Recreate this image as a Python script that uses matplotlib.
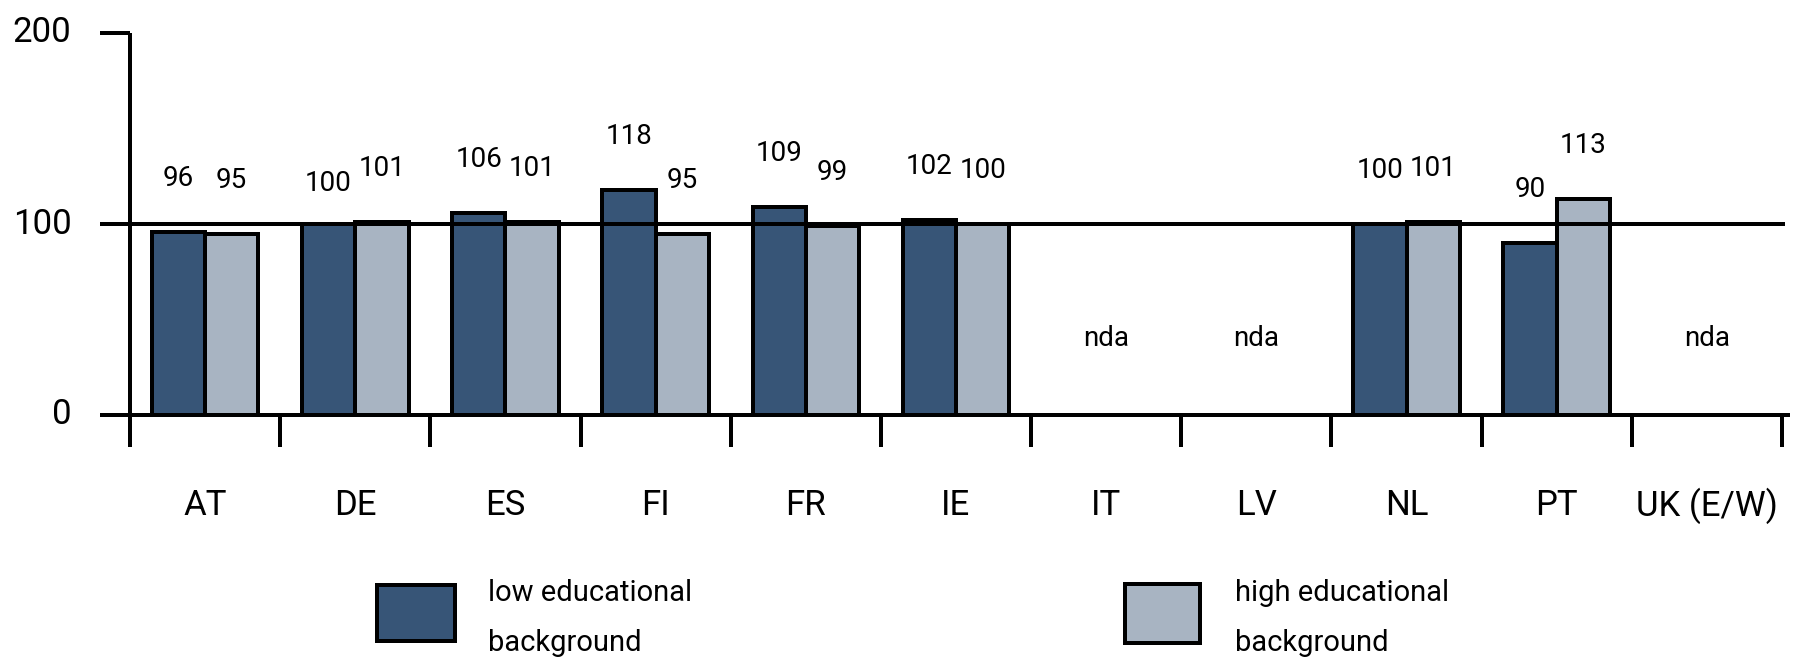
import matplotlib
matplotlib.use("Agg")
import matplotlib.pyplot as plt
from matplotlib import font_manager
from matplotlib.patches import Rectangle

# ---- data ----
categories = ["AT", "DE", "ES", "FI", "FR", "IE", "IT", "LV", "NL", "PT", "UK (E/W)"]
low_edu = [96, 100, 106, 118, 109, 102, None, None, 100, 90, None]
high_edu = [95, 101, 101, 95, 99, 100, None, None, 101, 113, None]
series_names = [["low educational", "background"], ["high educational", "background"]]
y_ticks = [0, 100, 200]
missing_label = "nda"

# ---- style ----
avail = {f.name for f in font_manager.fontManager.ttflist}
fam = next((f for f in ["Liberation Sans Narrow", "Roboto", "Liberation Sans"] if f in avail), "DejaVu Sans")
plt.rcParams["font.family"] = [fam, "DejaVu Sans"]

dark = "#375577"
light = "#a8b4c2"
lw_px = 4
lw = lw_px * 72 / 100

W, H = 1797, 659
fig = plt.figure(figsize=(W / 100, H / 100), dpi=100)
x0, x1 = 130, 1782
y0, y1 = 415, 33
ax = fig.add_axes([x0 / W, 1 - y0 / H, (x1 - x0) / W, (y0 - y1) / H])
n = len(categories)
ax.set_xlim(0, n)
ax.set_ylim(0, 200)
ax.axis("off")

bw = 0.355
val_fs = 20
for i, (lo, hi) in enumerate(zip(low_edu, high_edu)):
    c = i + 0.5
    if lo is None:
        ax.text(c, 40, missing_label, ha="center", va="center", fontsize=20)
        continue
    ax.bar(c - bw / 2, lo, width=bw, color=dark, edgecolor="black", linewidth=lw, zorder=3)
    ax.bar(c + bw / 2, hi, width=bw, color=light, edgecolor="black", linewidth=lw, zorder=3)
    dlo = 21 if categories[i] == "DE" else 28
    ax.text(c - bw / 2, lo + dlo, str(lo), ha="center", va="center", fontsize=val_fs)
    ax.text(c + bw / 2, hi + 28, str(hi), ha="center", va="center", fontsize=val_fs)

# axis lines
kw = dict(color="black", linewidth=lw, clip_on=False, solid_capstyle="butt", zorder=4)
ax.plot([0, 0], [200, -16.8], **kw)
ax.plot([-0.2, 0], [200, 200], **kw)
ax.plot([-0.2, n + 0.05], [0, 0], **kw)
ax.plot([-0.2, n + 0.02], [100, 100], **kw)
for b in range(0, n + 1):
    ax.plot([b, b], [0, -16.8], **kw)
for t in y_ticks:
    ax.text(-0.39, t, str(t), ha="right", va="center", fontsize=25)
for i, cat in enumerate(categories):
    ax.text(i + 0.5, -47.5, cat, ha="center", va="center", fontsize=25)

# legend
def legend_item(bx0, bx1, by0, by1, color, tx, lines):
    fig.add_artist(Rectangle((bx0 / W, 1 - by1 / H), (bx1 - bx0) / W, (by1 - by0) / H,
                             transform=fig.transFigure, facecolor=color,
                             edgecolor="black", linewidth=lw))
    fig.text(tx / W, 1 - 601 / H, lines[0], ha="left", va="baseline", fontsize=21)
    fig.text(tx / W, 1 - 651 / H, lines[1], ha="left", va="baseline", fontsize=21)

legend_item(377, 455, 585, 641, dark, 488, series_names[0])
legend_item(1125, 1200, 584, 643, light, 1235, series_names[1])

fig.savefig("out.png", dpi=100)
